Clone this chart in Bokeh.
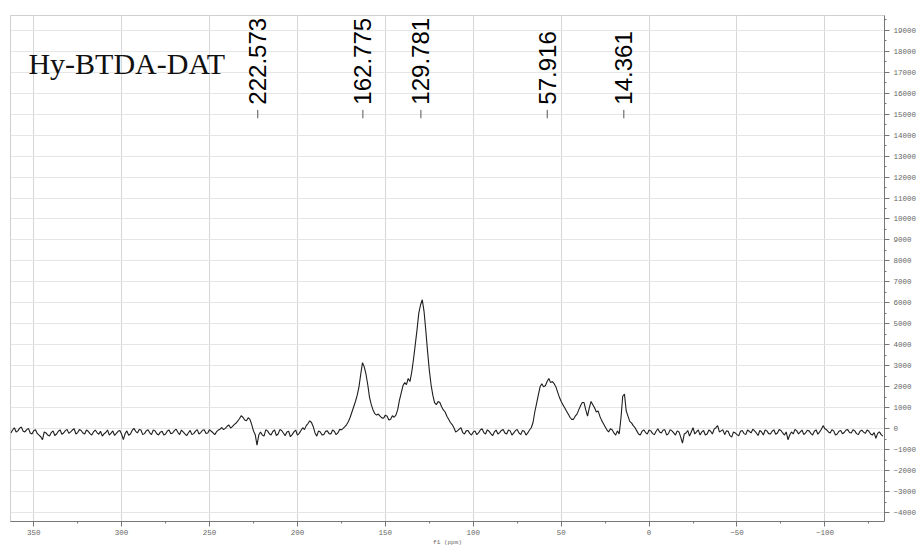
import numpy as np
from bokeh.plotting import figure
from bokeh.models import Range1d, SingleIntervalTicker, Label, ColumnDataSource
from bokeh.core.properties import value
from bokeh.embed import file_html
from bokeh.resources import INLINE

# ---- data (13C CP/MAS spectrum, 1 ppm sampling, 363 -> -133 ppm) ----
ppm_start = 363.0
ppm_step = -1.0
intensity = [
    -200, -60, 50, -150, -100, 30, 80, -120, -150, -40,        # 363..354
    20, -200, -250, -90, -50, -220, -300, -380, -520, -150,    # 353..344
    -200, -300, -350, -180, -100, -320, -250, -120, -50, -260, # 343..334
    -200, -90, -30, -220, -150, -60, 0, -250, -180, -40,       # 333..324
    -80, -200, -250, -60, -120, -230, -300, -150, -60, -180,   # 323..314
    -260, -120, -350, -240, -180, -60, -300, -210, -100, -320, # 313..304
    -220, -120, -80, -260, -520, -230, -100, -310, -250, -80,  # 303..294
    20, -120, -200, -30, -60, -280, -230, -100, -50, -190,     # 293..284
    -280, -60, -100, -240, -300, -160, -120, -300, -250, -110, # 283..274
    -60, -240, -200, -90, -20, -170, -280, -60, -150, -240,    # 273..264
    -330, -190, -80, -280, -230, -110, -40, -250, -180, -70,   # 263..254
    -50, -230, -200, -40, -120, -190, -280, -140, -60, -20,    # 253..244
    60, -40, 20, 120, 180, 40, 100, 200, 260, 360,             # 243..234
    480, 620, 550, 420, 380, 530, 450, 200, -100, -280,        # 233..224
    -780, -300, -150, -300, -350, -50, -100, -240, -300, -130, # 223..214
    -50, -320, -250, -40, -80, -200, -330, -150, -120, -380,   # 213..204
    -280, -150, -60, -300, -220, -80, 50, -40, 150, 250,       # 203..194
    380, 300, 100, -200, -350, -100, -150, -300, -280, -120,   # 193..184
    -100, -230, -250, -60, -120, -280, -200, -30, -50, 20,     # 183..174
    100, 200, 350, 550, 800, 1050, 1300, 1600, 2000, 2600,     # 173..164
    3150, 2950, 2600, 2100, 1500, 1150, 900, 720, 650, 700,    # 163..154
    600, 520, 500, 650, 600, 420, 450, 620, 550, 650,          # 153..144
    900, 1350, 1700, 2050, 2200, 2100, 2400, 2250, 2700, 3300, # 143..134
    4000, 4700, 5500, 5900, 6150, 5600, 4700, 3700, 2800, 2100,# 133..124
    1600, 1250, 1150, 1300, 1250, 1050, 900, 800, 600, 450,    # 123..114
    300, 200, 50, -150, -100, -20, 50, -180, -250, -100,       # 113..104
    -80, -220, -300, -150, -100, -280, -200, -60, 0, -180,     # 103..94
    -250, -50, -120, -230, -330, -150, -60, -250, -180, -80,   # 93..84
    -30, -200, -250, -60, -100, -300, -200, -90, -30, -200,    # 83..74
    -280, -80, -120, -300, -200, -60, 50, 300, 800, 1200,      # 73..64
    1600, 2000, 2150, 2000, 2050, 2250, 2400, 2200, 2250, 2150,# 63..54
    2000, 1750, 1500, 1300, 1150, 1000, 850, 700, 550, 450,    # 53..44
    450, 600, 700, 900, 1100, 1250, 1250, 900, 600, 1000,      # 43..34
    1300, 1150, 1000, 800, 850, 600, 400, 250, 100, -50,       # 33..24
    -150, 0, -50, -200, -300, -100, -250, 500, 1550, 1650,     # 23..14
    850, 600, 350, 280, 150, 50, -100, -250, -300, -120,       # 13..4
    -50, -180, -250, -60, -100, -230, -280, -120, 0, -150,     # 3..-6
    -200, -60, -50, -300, -230, -40, -100, -200, -300, -100,   # -7..-16
    -150, -400, -680, -250, -200, -80, -350, -150, 50, -250,   # -17..-26
    -150, -50, -300, -150, -80, -300, -250, -60, -120, -250,   # -27..-36
    -20, 50, 150, -150, -100, -50, -280, -100, -120, -330,     # -37..-46
    -400, -150, -200, -280, -330, -120, -80, -230, -280, -60,  # -47..-56
    -120, -200, -20, -100, -200, -320, -80, -150, -300, -60,   # -57..-66
    -100, -230, -250, -120, -50, -260, -200, -30, -80, -200,   # -67..-76
    -300, -150, -520, -300, -150, -250, -30, -100, -250, -150, # -77..-86
    -60, -280, -200, -70, -100, -220, -300, -120, -50, -260,   # -87..-96
    -150, -20, 150, 0, -50, -150, -200, -50, -100, -300,       # -97..-106
    -250, -120, -80, -240, -180, -60, -40, -180, -200, -50,    # -107..-116
    -100, -230, -280, -120, -70, -160, -220, -60, -120, -250,  # -117..-126
    -300, -180, -450, -220, -150, -280, -350,                  # -127..-133
]
assert len(intensity) == 497, len(intensity)
ppm = ppm_start + ppm_step * np.arange(len(intensity))

peak_ppm = [222.573, 162.775, 129.781, 57.916, 14.361]
peak_labels = ["%.3f" % v for v in peak_ppm]
title_text = "Hy-BTDA-DAT"

# ---- figure ----
p = figure(width=919, height=548,
           x_range=Range1d(363.2, -133.9), y_range=Range1d(-4420, 19700),
           output_backend="svg", toolbar_location=None,
           x_axis_location="below", y_axis_location="right",
           min_border_left=10, min_border_top=15, min_border_right=34,
           min_border_bottom=25)
p.background_fill_color = "white"
p.border_fill_color = "white"
p.outline_line_color = "#cfcfcf"

p.xaxis.ticker = SingleIntervalTicker(interval=50, num_minor_ticks=2)
p.yaxis.ticker = SingleIntervalTicker(interval=1000, num_minor_ticks=2)
p.xgrid.ticker = SingleIntervalTicker(interval=50)
p.ygrid.ticker = SingleIntervalTicker(interval=1000)
p.xgrid.grid_line_color = "#d6d6d6"
p.ygrid.grid_line_color = "#e6e6e6"

for ax in (p.xaxis, p.yaxis):
    ax.axis_line_color = "#777777"
    ax.major_tick_line_color = "#777777"
    ax.minor_tick_line_color = "#777777"
    ax.major_tick_in = 0
    ax.major_tick_out = 5
    ax.minor_tick_in = 0
    ax.minor_tick_out = 2
    ax.major_label_text_font = "Liberation Mono"
    ax.major_label_text_color = "#666666"
    ax.major_label_text_font_size = "7.5px"
p.xaxis.major_label_standoff = 3
p.yaxis.major_label_standoff = 4

p.xaxis.axis_label = "f1 (ppm)"
p.xaxis.axis_label_text_font = "Liberation Mono"
p.xaxis.axis_label_text_font_size = "6px"
p.xaxis.axis_label_text_font_style = "normal"
p.xaxis.axis_label_text_color = "#666666"
p.xaxis.axis_label_standoff = 1

src = ColumnDataSource(dict(x=ppm, y=intensity))
p.line("x", "y", source=src, line_color="#1e1e1e", line_width=1.1)

# peak markers and labels
peak_src = ColumnDataSource(dict(x=peak_ppm, t=peak_labels,
                                 y0=[14800] * len(peak_ppm),
                                 y1=[15200] * len(peak_ppm),
                                 yt=[15450] * len(peak_ppm)))
p.segment(x0="x", y0="y0", x1="x", y1="y1", source=peak_src,
          line_color="#555555", line_width=1)
p.text(x="x", y="yt", text="t", source=peak_src, angle=np.pi / 2,
       text_align="left", text_baseline="middle",
       text_font=value("Liberation Sans"), text_font_size="24px",
       text_color="black")

p.add_layout(Label(x=353, y=17400, text=title_text,
                   text_font="Liberation Serif", text_font_size="30px",
                   text_color="#111111", text_baseline="alphabetic"))

open("out.html", "w").write(file_html(p, INLINE))
